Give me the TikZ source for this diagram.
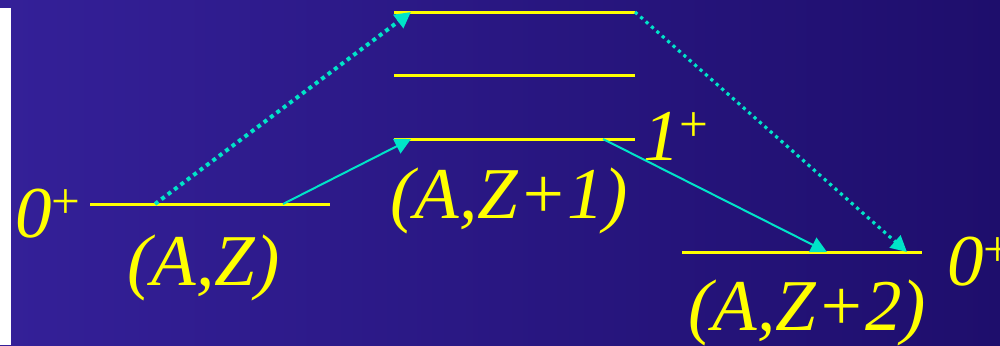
\documentclass[tikz,border=0pt]{standalone}
\usepackage{fontspec}
\setmainfont{Liberation Serif}
\usetikzlibrary{arrows.meta}
\definecolor{bgleft}{RGB}{52,32,152}
\definecolor{bgright}{RGB}{30,14,108}
\definecolor{lvlyellow}{RGB}{255,255,0}
\definecolor{betacyan}{RGB}{0,228,200}
\begin{document}
\begin{tikzpicture}[x=0.5pt,y=-0.5pt,
   level/.style={draw=lvlyellow, line width=1.5pt},
   decay/.style={draw=betacyan, line width=1pt, -{Triangle[length=8pt,width=8pt]}, betacyan},
   dbldecay/.style={draw=betacyan, line width=2pt, dash pattern=on 2pt off 2pt, -{Triangle[length=8pt,width=8pt]}, betacyan},
   lab/.style={text=lvlyellow, inner sep=0pt, anchor=base west, font=\fontsize{36.5}{40}\selectfont\itshape}]
   \shade[left color=bgleft, right color=bgright] (0,0) rectangle (1000,345);
   \fill[white] (0,8) rectangle (11,345);
   \useasboundingbox (0,0) rectangle (1000,345);

   % levels
   \coordinate (p0a) at (90,204);  \coordinate (p0b) at (330,204);
   \coordinate (m2a) at (394,12);  \coordinate (m2b) at (635,12);
   \coordinate (m1a) at (394,75);  \coordinate (m1b) at (635,75);
   \coordinate (m0a) at (394,139); \coordinate (m0b) at (635,139);
   \coordinate (d0a) at (682,252); \coordinate (d0b) at (922,252);
   \draw[level] (p0a) -- (p0b);
   \draw[level] (m2a) -- (m2b);
   \draw[level] (m1a) -- (m1b);
   \draw[level] (m0a) -- (m0b);
   \draw[level] (d0a) -- (d0b);

   % labels
   \node[lab] (spinP) at (15,237) {0\textsuperscript{\upshape +}};
   \node[lab] (nucP) at (127,285) {(A,Z)};
   \node[lab] (nucM) at (390,218) {(A,Z+1)};
   \node[lab] (spinM) at (643,160) {1\textsuperscript{\upshape +}};
   \node[lab] (nucD) at (688,330) {(A,Z+2)};
   \node[lab] (spinD) at (947,285) {0\textsuperscript{\upshape +}};

   % transitions
   \coordinate (s1) at (283,204); \coordinate (e1) at (411,139);
   \coordinate (s2) at (603,139); \coordinate (e2) at (827,252);
   \coordinate (s3) at (155,204); \coordinate (e3) at (411,12);
   \coordinate (s4) at (635,12);  \coordinate (e4) at (907,252);
   \draw[decay] (s1) -- (e1);
   \draw[decay] (s2) -- (e2);
   \draw[dbldecay] (s3) -- (e3);
   \draw[dbldecay, line width=1.6pt, dash pattern=on 1.6pt off 2pt] (s4) -- (e4);
\end{tikzpicture}
\end{document}
